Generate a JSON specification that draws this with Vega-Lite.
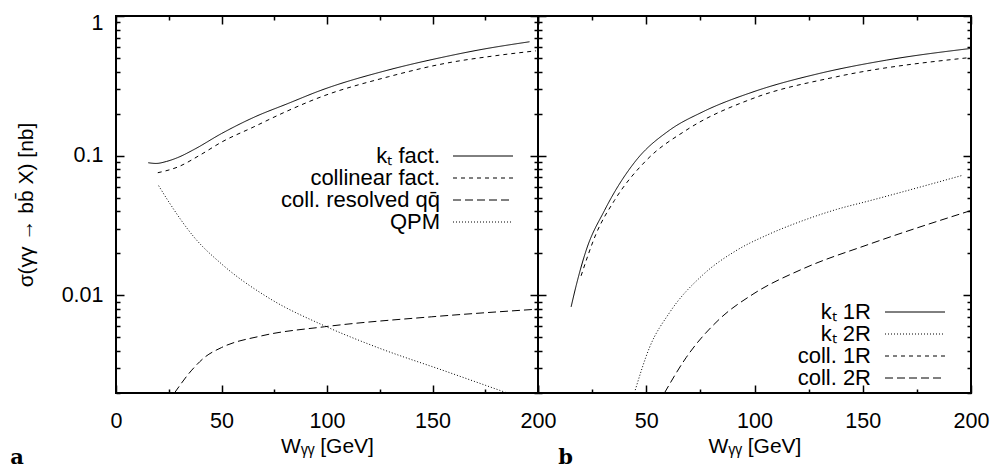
{
  "$schema": "https://vega.github.io/schema/vega-lite/v6.json",
  "background": "white",
  "padding": {"left": 9, "top": 10, "right": 5, "bottom": 5},
  "spacing": 0,
  "bounds": "flush",
  "config": {
    "font": "Liberation Sans",
    "view": {"stroke": "black", "strokeWidth": 2},
    "axis": {"grid": false, "domain": false, "tickColor": "black", "tickWidth": 1.5, "labelColor": "black", "titleColor": "black", "labelFontSize": 21.5, "titleFontSize": 21, "titleFontWeight": "normal", "labelOverlap": false, "labelFlush": false},
    "legend": {"labelColor": "black", "labelFontSize": 21}
  },
  "datasets": {
    "left": [
      {"series": "kₜ fact.", "W": 15.3, "sigma": 0.089},
      {"series": "kₜ fact.", "W": 19, "sigma": 0.088},
      {"series": "kₜ fact.", "W": 24, "sigma": 0.091},
      {"series": "kₜ fact.", "W": 29.3, "sigma": 0.097},
      {"series": "kₜ fact.", "W": 37.1, "sigma": 0.111},
      {"series": "kₜ fact.", "W": 50, "sigma": 0.144},
      {"series": "kₜ fact.", "W": 65.6, "sigma": 0.189},
      {"series": "kₜ fact.", "W": 81.4, "sigma": 0.236},
      {"series": "kₜ fact.", "W": 97.2, "sigma": 0.294},
      {"series": "kₜ fact.", "W": 128.9, "sigma": 0.41},
      {"series": "kₜ fact.", "W": 155.7, "sigma": 0.51},
      {"series": "kₜ fact.", "W": 171.6, "sigma": 0.57},
      {"series": "kₜ fact.", "W": 196, "sigma": 0.654},
      {"series": "collinear fact.", "W": 19.8, "sigma": 0.0755},
      {"series": "collinear fact.", "W": 29.3, "sigma": 0.083},
      {"series": "collinear fact.", "W": 40.3, "sigma": 0.102},
      {"series": "collinear fact.", "W": 50, "sigma": 0.125},
      {"series": "collinear fact.", "W": 65, "sigma": 0.16},
      {"series": "collinear fact.", "W": 80, "sigma": 0.205},
      {"series": "collinear fact.", "W": 97, "sigma": 0.263},
      {"series": "collinear fact.", "W": 129, "sigma": 0.367},
      {"series": "collinear fact.", "W": 155.7, "sigma": 0.457},
      {"series": "collinear fact.", "W": 180, "sigma": 0.52},
      {"series": "collinear fact.", "W": 199, "sigma": 0.563},
      {"series": "coll. resolved qq̄", "W": 27.7, "sigma": 0.002},
      {"series": "coll. resolved qq̄", "W": 35.6, "sigma": 0.00288},
      {"series": "coll. resolved qq̄", "W": 42, "sigma": 0.0036},
      {"series": "coll. resolved qq̄", "W": 50, "sigma": 0.00423},
      {"series": "coll. resolved qq̄", "W": 69, "sigma": 0.00513},
      {"series": "coll. resolved qq̄", "W": 98.8, "sigma": 0.00596},
      {"series": "coll. resolved qq̄", "W": 149.4, "sigma": 0.00702},
      {"series": "coll. resolved qq̄", "W": 200, "sigma": 0.00797},
      {"series": "QPM", "W": 20.2, "sigma": 0.061},
      {"series": "QPM", "W": 25.3, "sigma": 0.046},
      {"series": "QPM", "W": 37.1, "sigma": 0.026},
      {"series": "QPM", "W": 50, "sigma": 0.0168},
      {"series": "QPM", "W": 72, "sigma": 0.00966},
      {"series": "QPM", "W": 98.8, "sigma": 0.00605},
      {"series": "QPM", "W": 124, "sigma": 0.00423},
      {"series": "QPM", "W": 155.7, "sigma": 0.00288},
      {"series": "QPM", "W": 185, "sigma": 0.00201}
    ],
    "right": [
      {"series": "kₜ 1R", "W": 15.3, "sigma": 0.00828},
      {"series": "kₜ 1R", "W": 17.6, "sigma": 0.0117},
      {"series": "kₜ 1R", "W": 22.2, "sigma": 0.0209},
      {"series": "kₜ 1R", "W": 30.7, "sigma": 0.0405},
      {"series": "kₜ 1R", "W": 45.3, "sigma": 0.0925},
      {"series": "kₜ 1R", "W": 60.7, "sigma": 0.152},
      {"series": "kₜ 1R", "W": 76.1, "sigma": 0.206},
      {"series": "kₜ 1R", "W": 99.3, "sigma": 0.286},
      {"series": "kₜ 1R", "W": 130, "sigma": 0.388},
      {"series": "kₜ 1R", "W": 160.9, "sigma": 0.483},
      {"series": "kₜ 1R", "W": 200, "sigma": 0.586},
      {"series": "kₜ 2R", "W": 44.5, "sigma": 0.002},
      {"series": "kₜ 2R", "W": 51.5, "sigma": 0.00423},
      {"series": "kₜ 2R", "W": 60.7, "sigma": 0.0075},
      {"series": "kₜ 2R", "W": 76.1, "sigma": 0.014},
      {"series": "kₜ 2R", "W": 91.5, "sigma": 0.0209},
      {"series": "kₜ 2R", "W": 106.9, "sigma": 0.0275},
      {"series": "kₜ 2R", "W": 122.4, "sigma": 0.0343},
      {"series": "kₜ 2R", "W": 137.8, "sigma": 0.0412},
      {"series": "kₜ 2R", "W": 153, "sigma": 0.0475},
      {"series": "kₜ 2R", "W": 195.6, "sigma": 0.072},
      {"series": "coll. 1R", "W": 19.9, "sigma": 0.0138},
      {"series": "coll. 1R", "W": 26.8, "sigma": 0.0275},
      {"series": "coll. 1R", "W": 35.3, "sigma": 0.0478},
      {"series": "coll. 1R", "W": 50, "sigma": 0.0925},
      {"series": "coll. 1R", "W": 68.4, "sigma": 0.152},
      {"series": "coll. 1R", "W": 99.3, "sigma": 0.257},
      {"series": "coll. 1R", "W": 137.8, "sigma": 0.367},
      {"series": "coll. 1R", "W": 200, "sigma": 0.505},
      {"series": "coll. 2R", "W": 58.4, "sigma": 0.002},
      {"series": "coll. 2R", "W": 68.4, "sigma": 0.00358},
      {"series": "coll. 2R", "W": 83.8, "sigma": 0.00676},
      {"series": "coll. 2R", "W": 99.3, "sigma": 0.0102},
      {"series": "coll. 2R", "W": 122.4, "sigma": 0.0155},
      {"series": "coll. 2R", "W": 153.2, "sigma": 0.0233},
      {"series": "coll. 2R", "W": 200, "sigma": 0.0405}
    ]
  },
  "hconcat": [
    {
      "width": 422,
      "height": 377,
      "data": {"name": "left"},
      "title": {"text": "a", "orient": "bottom", "anchor": "start", "frame": "bounds", "font": "DejaVu Serif", "fontWeight": "bold", "fontSize": 21, "color": "black", "offset": -10, "dx": -5},
      "layer": [
        {
          "mark": {"type": "line", "color": "black", "strokeWidth": 1, "clip": true, "interpolate": "monotone"},
          "encoding": {
            "x": {"field": "W", "type": "quantitative", "scale": {"domain": [0, 200], "nice": false, "zero": false},
              "axis": {"orient": "bottom", "values": [0, 25, 50, 75, 100, 125, 150, 175, 200], "labelExpr": "datum.value % 50 === 0 ? datum.label : ''",
                "tickSize": {"condition": {"test": "datum.value % 50 === 0", "value": -8}, "value": -4}, "labelPadding": 25, "title": "Wᵧᵧ [GeV]", "titlePadding": 0}},
            "y": {"field": "sigma", "type": "quantitative", "scale": {"type": "log", "domain": [0.002, 1], "nice": false},
              "axis": {"orient": "left", "values": [0.002, 0.003, 0.004, 0.005, 0.006, 0.007, 0.008, 0.009, 0.01, 0.02, 0.03, 0.04, 0.05, 0.06, 0.07, 0.08, 0.09, 0.1, 0.2, 0.3, 0.4, 0.5, 0.6, 0.7, 0.8, 0.9, 1],
                "labelExpr": "datum.value === 1 ? '1' : datum.value === 0.1 ? '0.1' : datum.value === 0.01 ? '0.01' : ''",
                "tickSize": {"condition": {"test": "datum.value === 1 || datum.value === 0.1 || datum.value === 0.01", "value": -8}, "value": -4},
                "labelOffset": {"condition": {"test": "datum.value === 1", "value": 7}, "value": 0},
                "labelPadding": 21, "title": "σ(γγ → bb̄ X) [nb]", "titlePadding": 25}},
            "strokeDash": {"field": "series", "type": "nominal",
              "scale": {"domain": ["kₜ fact.", "collinear fact.", "coll. resolved qq̄", "QPM"], "range": [[1, 0], [4, 4], [8, 4], [1, 2]]},
              "legend": {"orient": "none", "legendX": 356, "legendY": 129, "title": null, "symbolType": "M-3,0H3", "symbolSize": 400, "symbolStrokeWidth": 1, "symbolStrokeColor": "black", "labelAlign": "right", "labelOffset": -54, "rowPadding": -0.7, "labelFontSize": 22}}
          }
        },
        {
          "mark": {"type": "line", "strokeOpacity": 0, "clip": true},
          "encoding": {
            "x": {"field": "W", "type": "quantitative",
              "axis": {"orient": "top", "values": [0, 25, 50, 75, 100, 125, 150, 175, 200], "labels": false, "title": null,
                "tickSize": {"condition": {"test": "datum.value % 50 === 0", "value": -8}, "value": -4}}},
            "y": {"field": "sigma", "type": "quantitative",
              "axis": {"orient": "right", "values": [0.002, 0.003, 0.004, 0.005, 0.006, 0.007, 0.008, 0.009, 0.01, 0.02, 0.03, 0.04, 0.05, 0.06, 0.07, 0.08, 0.09, 0.1, 0.2, 0.3, 0.4, 0.5, 0.6, 0.7, 0.8, 0.9, 1], "labels": false, "title": null,
                "tickSize": {"condition": {"test": "datum.value === 1 || datum.value === 0.1 || datum.value === 0.01", "value": -8}, "value": -4}}},
            "detail": {"field": "series", "type": "nominal"}
          }
        }
      ],
      "resolve": {"axis": {"x": "independent", "y": "independent"}}
    },
    {
      "width": 433,
      "height": 377,
      "data": {"name": "right"},
      "title": {"text": "b", "orient": "bottom", "anchor": "start", "frame": "bounds", "font": "DejaVu Serif", "fontWeight": "bold", "fontSize": 21, "color": "black", "offset": -10, "dx": 21},
      "layer": [
        {
          "mark": {"type": "line", "color": "black", "strokeWidth": 1, "clip": true, "interpolate": "monotone"},
          "encoding": {
            "x": {"field": "W", "type": "quantitative", "scale": {"domain": [0, 200], "nice": false, "zero": false},
              "axis": {"orient": "bottom", "values": [0, 25, 50, 75, 100, 125, 150, 175, 200], "labelExpr": "datum.value % 50 === 0 && datum.value > 0 ? datum.label : ''",
                "tickSize": {"condition": {"test": "datum.value % 50 === 0", "value": -8}, "value": -4}, "labelPadding": 25, "title": "Wᵧᵧ [GeV]", "titlePadding": 0}},
            "y": {"field": "sigma", "type": "quantitative", "scale": {"type": "log", "domain": [0.002, 1], "nice": false},
              "axis": {"orient": "left", "values": [0.002, 0.003, 0.004, 0.005, 0.006, 0.007, 0.008, 0.009, 0.01, 0.02, 0.03, 0.04, 0.05, 0.06, 0.07, 0.08, 0.09, 0.1, 0.2, 0.3, 0.4, 0.5, 0.6, 0.7, 0.8, 0.9, 1],
                "labels": false, "title": null,
                "tickSize": {"condition": {"test": "datum.value === 1 || datum.value === 0.1 || datum.value === 0.01", "value": -8}, "value": -4}}},
            "strokeDash": {"field": "series", "type": "nominal",
              "scale": {"domain": ["kₜ 1R", "kₜ 2R", "coll. 1R", "coll. 2R"], "range": [[1, 0], [1, 2], [4, 4], [8, 4]]},
              "legend": {"orient": "none", "legendX": 366, "legendY": 285, "title": null, "symbolType": "M-3,0H3", "symbolSize": 400, "symbolStrokeWidth": 1, "symbolStrokeColor": "black", "labelAlign": "right", "labelOffset": -55, "rowPadding": -0.5, "labelFontSize": 22}}
          }
        },
        {
          "mark": {"type": "line", "strokeOpacity": 0, "clip": true},
          "encoding": {
            "x": {"field": "W", "type": "quantitative",
              "axis": {"orient": "top", "values": [0, 25, 50, 75, 100, 125, 150, 175, 200], "labels": false, "title": null,
                "tickSize": {"condition": {"test": "datum.value % 50 === 0", "value": -8}, "value": -4}}},
            "y": {"field": "sigma", "type": "quantitative",
              "axis": {"orient": "right", "values": [0.002, 0.003, 0.004, 0.005, 0.006, 0.007, 0.008, 0.009, 0.01, 0.02, 0.03, 0.04, 0.05, 0.06, 0.07, 0.08, 0.09, 0.1, 0.2, 0.3, 0.4, 0.5, 0.6, 0.7, 0.8, 0.9, 1], "labels": false, "title": null,
                "tickSize": {"condition": {"test": "datum.value === 1 || datum.value === 0.1 || datum.value === 0.01", "value": -8}, "value": -4}}},
            "detail": {"field": "series", "type": "nominal"}
          }
        }
      ],
      "resolve": {"axis": {"x": "independent", "y": "independent"}}
    }
  ],
  "resolve": {"scale": {"strokeDash": "independent"}, "legend": {"strokeDash": "independent"}}
}
